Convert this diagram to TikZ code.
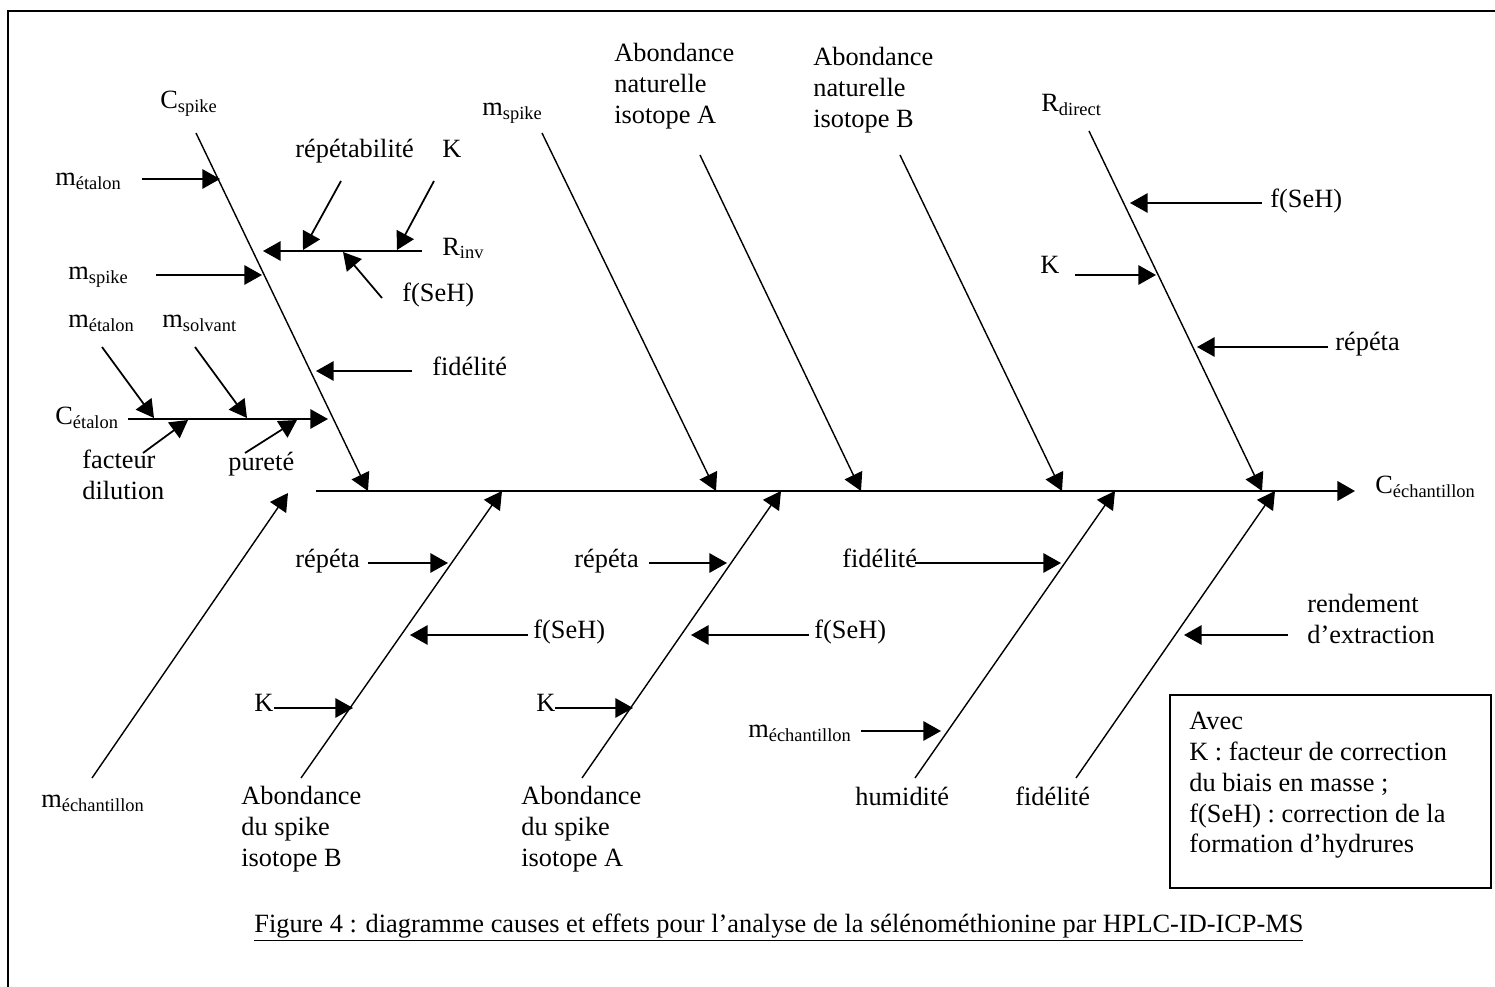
\documentclass[tikz,border=0pt]{standalone}
\usepackage{fontspec}
\setmainfont{Liberation Serif}
\usetikzlibrary{arrows.meta}
\newcommand{\sbs}[1]{\textsubscript{#1}}
\tikzset{%
  tip/.style    = {-{Triangle[length=10pt,width=11pt]}},%
  spine/.style  = {tip, line width=1.5pt},%
  bone/.style   = {tip, line width=0.8pt},%
  cause/.style  = {tip, line width=1pt},%
  lbl/.style    = {inner sep=0pt, anchor=base west},%
  blk/.style    = {inner sep=0pt, anchor=north west, align=left}%
}

\begin{document}
\begin{tikzpicture}
  [x=0.02cm, y=-0.02cm, font=\fontsize{15}{17.6}\selectfont]
  \useasboundingbox (0,0) rectangle (1495,987);
  % cadre
  \draw[line width=1.1pt] (8,987) -- (8,11) -- (1495,11);

  % arete principale
  \coordinate (sp0) at (316,491); \coordinate (sp1) at (1355,491);
  \draw[spine] (sp0) -- (sp1);
  \node[lbl] (cech) at (1375,493) {C\sbs{échantillon}};

  % aretes du haut
  \coordinate (b1s) at (196,133);  \coordinate (b1t) at (368,491);
  \coordinate (b2s) at (542,133);  \coordinate (b2t) at (716,491);
  \coordinate (b3s) at (700,155);  \coordinate (b3t) at (861,491);
  \coordinate (b4s) at (900,155);  \coordinate (b4t) at (1062,491);
  \coordinate (b5s) at (1089,131); \coordinate (b5t) at (1262,491);
  \draw[bone] (b1s) -- (b1t);
  \draw[bone] (b2s) -- (b2t);
  \draw[bone] (b3s) -- (b3t);
  \draw[bone] (b4s) -- (b4t);
  \draw[bone] (b5s) -- (b5t);

  % aretes du bas
  \coordinate (d1s) at (92,778);   \coordinate (d1t) at (288,493);
  \coordinate (d2s) at (301,778);  \coordinate (d2t) at (502,491);
  \coordinate (d3s) at (582,778);  \coordinate (d3t) at (781,491);
  \coordinate (d4s) at (915,778);  \coordinate (d4t) at (1115,491);
  \coordinate (d5s) at (1076,778); \coordinate (d5t) at (1275,491);
  \draw[bone] (d1s) -- (d1t);
  \draw[bone] (d2s) -- (d2t);
  \draw[bone] (d3s) -- (d3t);
  \draw[bone] (d4s) -- (d4t);
  \draw[bone] (d5s) -- (d5t);

  % C spike
  \node[lbl] (cspike) at (160,108) {C\sbs{spike}};
  \node[lbl] (metal1) at (55,185) {m\sbs{étalon}};
  \node[lbl] (repab) at (295,157) {répétabilité};
  \node[lbl] (kinv) at (442,157) {K};
  \node[lbl] (rinv) at (442,255) {R\sbs{inv}};
  \node[lbl] (fseh1) at (402,301) {f(SeH)};
  \node[lbl] (mspike1) at (68,279) {m\sbs{spike}};
  \node[lbl] (metal2) at (68,327) {m\sbs{étalon}};
  \node[lbl] (msolv) at (162,327) {m\sbs{solvant}};
  \node[lbl] (fid1) at (432,375) {fidélité};
  \node[lbl] (cetal) at (55,424) {C\sbs{étalon}};
  \node[blk] (facdil) at (82,450) {facteur\\dilution};
  \node[lbl] (purete) at (228,470) {pureté};
  \coordinate (c1s) at (142,179);   \coordinate (c1t) at (220,179);
  \coordinate (rinvs) at (422,251); \coordinate (rinvt) at (263,251);
  \coordinate (r1s) at (341,181);   \coordinate (r1t) at (303,250);
  \coordinate (r2s) at (434,181);   \coordinate (r2t) at (397,250);
  \coordinate (r3s) at (382,298);   \coordinate (r3t) at (343,252);
  \coordinate (c2s) at (156,275);   \coordinate (c2t) at (262,275);
  \coordinate (c3s) at (412,371);   \coordinate (c3t) at (316,371);
  \coordinate (cets) at (128,419);  \coordinate (cett) at (328,419);
  \coordinate (e1s) at (102,347);   \coordinate (e1t) at (154,418);
  \coordinate (e2s) at (195,347);   \coordinate (e2t) at (247,418);
  \coordinate (e3s) at (143,453);   \coordinate (e3t) at (188,420);
  \coordinate (e4s) at (245,453);   \coordinate (e4t) at (297,420);
  \draw[cause] (c1s) -- (c1t);
  \draw[cause] (rinvs) -- (rinvt);
  \draw[cause] (r1s) -- (r1t);
  \draw[cause] (r2s) -- (r2t);
  \draw[cause] (r3s) -- (r3t);
  \draw[cause] (c2s) -- (c2t);
  \draw[cause] (c3s) -- (c3t);
  \draw[cause] (cets) -- (cett);
  \draw[cause] (e1s) -- (e1t);
  \draw[cause] (e2s) -- (e2t);
  \draw[cause] (e3s) -- (e3t);
  \draw[cause] (e4s) -- (e4t);

  % haut, milieu et droite
  \node[lbl] (mspike2) at (482,115) {m\sbs{spike}};
  \node[blk] (abnA) at (614,43) {Abondance\\naturelle\\isotope A};
  \node[blk] (abnB) at (813,47) {Abondance\\naturelle\\isotope B};
  \node[lbl] (rdir) at (1041,111) {R\sbs{direct}};
  \node[lbl] (fseh2) at (1270,207) {f(SeH)};
  \node[lbl] (k2) at (1040,273) {K};
  \node[lbl] (rep1) at (1335,350) {répéta};
  \coordinate (g1s) at (1262,203); \coordinate (g1t) at (1130,203);
  \coordinate (g2s) at (1075,275); \coordinate (g2t) at (1156,275);
  \coordinate (g3s) at (1328,347); \coordinate (g3t) at (1197,347);
  \draw[cause] (g1s) -- (g1t);
  \draw[cause] (g2s) -- (g2t);
  \draw[cause] (g3s) -- (g3t);

  % bas
  \node[lbl] (mech1) at (41,807) {m\sbs{échantillon}};
  \node[blk] (abspB) at (241,786) {Abondance\\du spike\\isotope B};
  \node[lbl] (rep2) at (295,567) {répéta};
  \node[lbl] (fseh3) at (533,638) {f(SeH)};
  \node[lbl] (k3) at (254,711) {K};
  \node[blk] (abspA) at (521,786) {Abondance\\du spike\\isotope A};
  \node[lbl] (rep3) at (574,567) {répéta};
  \node[lbl] (fseh4) at (814,638) {f(SeH)};
  \node[lbl] (k4) at (536,711) {K};
  \node[lbl] (fid2) at (842,567) {fidélité};
  \node[lbl] (mech2) at (748,737) {m\sbs{échantillon}};
  \node[lbl] (humid) at (855,805) {humidité};
  \node[lbl] (fid3) at (1015,805) {fidélité};
  \node[blk] (rend) at (1307,594) {rendement\\d’extraction};
  \coordinate (h1s) at (368,563); \coordinate (h1t) at (448,563);
  \coordinate (h2s) at (528,635); \coordinate (h2t) at (410,635);
  \coordinate (h3s) at (274,708); \coordinate (h3t) at (353,708);
  \coordinate (i1s) at (649,563); \coordinate (i1t) at (727,563);
  \coordinate (i2s) at (809,635); \coordinate (i2t) at (691,635);
  \coordinate (i3s) at (555,708); \coordinate (i3t) at (633,708);
  \coordinate (j1s) at (915,563); \coordinate (j1t) at (1061,563);
  \coordinate (j2s) at (861,731); \coordinate (j2t) at (941,731);
  \coordinate (k1s) at (1288,635); \coordinate (k1t) at (1184,635);
  \draw[cause] (h1s) -- (h1t);
  \draw[cause] (h2s) -- (h2t);
  \draw[cause] (h3s) -- (h3t);
  \draw[cause] (i1s) -- (i1t);
  \draw[cause] (i2s) -- (i2t);
  \draw[cause] (i3s) -- (i3t);
  \draw[cause] (j1s) -- (j1t);
  \draw[cause] (j2s) -- (j2t);
  \draw[cause] (k1s) -- (k1t);

  % legende
  \node[draw, line width=1.1pt, inner sep=0pt, anchor=north west,
        minimum width=6.42cm, minimum height=3.86cm] (legbox) at (1169,694) {};
  \node[blk] (legend) at (1189,711.5) {Avec\\K : facteur de correction\\du biais en masse ;\\f(SeH) : correction de la\\formation d’hydrures};

  \node[lbl] (caption) at (254,932) {\underline{Figure 4 : diagramme causes et effets pour l’analyse de la sélénométhionine par HPLC-ID-ICP-MS}};
\end{tikzpicture}
\end{document}
